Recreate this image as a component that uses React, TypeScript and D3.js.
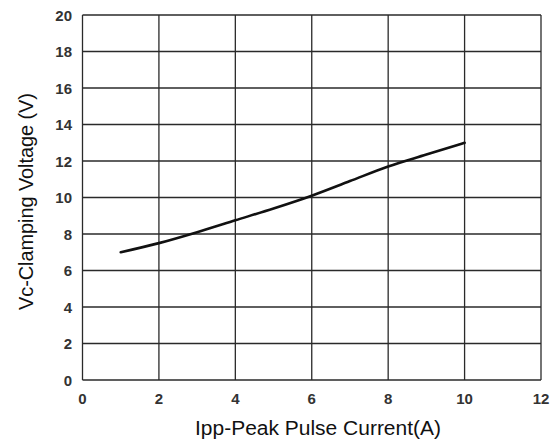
import { useEffect, useRef } from 'react';
import * as d3 from 'd3';

const currentA = [1, 2, 3, 4, 5, 6, 7, 8, 9, 10];
const clampV = [7, 7.5, 8.1, 8.75, 9.4, 10.1, 10.9, 11.7, 12.35, 13];
const xTicks = [0, 2, 4, 6, 8, 10, 12];
const yTicks = [0, 2, 4, 6, 8, 10, 12, 14, 16, 18, 20];

export default function App() {
  const ref = useRef<SVGSVGElement>(null);

  useEffect(() => {
    const width = 557;
    const height = 448;
    const margin = { top: 15, right: 16, bottom: 68, left: 82.5 };

    const svg = d3.select(ref.current);
    svg.selectAll('*').remove();

    const x = d3.scaleLinear().domain([0, 12]).range([margin.left, width - margin.right]);
    const y = d3.scaleLinear().domain([0, 20]).range([height - margin.bottom, margin.top]);

    const grid = svg.append('g').attr('stroke', '#2a2a2a').attr('stroke-width', 1.3);

    grid.selectAll('.vline')
      .data(xTicks)
      .join('line')
      .attr('x1', d => x(d))
      .attr('x2', d => x(d))
      .attr('y1', y(0))
      .attr('y2', y(20));

    grid.selectAll('.hline')
      .data(yTicks)
      .join('line')
      .attr('x1', x(0))
      .attr('x2', x(12))
      .attr('y1', d => y(d))
      .attr('y2', d => y(d));

    const line = d3.line<number>()
      .x((_, i) => x(currentA[i]))
      .y(d => y(d))
      .curve(d3.curveMonotoneX);

    svg.append('path')
      .datum(clampV)
      .attr('fill', 'none')
      .attr('stroke', '#111')
      .attr('stroke-width', 2.6)
      .attr('stroke-linecap', 'round')
      .attr('d', line);

    const font = 'Liberation Sans, Arial, sans-serif';

    svg.append('g')
      .selectAll('text')
      .data(yTicks)
      .join('text')
      .attr('x', 72)
      .attr('y', d => y(d) + 5.5)
      .attr('text-anchor', 'end')
      .attr('font-family', font)
      .attr('font-weight', 'bold')
      .attr('font-size', 15)
      .attr('fill', '#333')
      .text(d => d);

    svg.append('g')
      .selectAll('text')
      .data(xTicks)
      .join('text')
      .attr('x', d => x(d))
      .attr('y', 404)
      .attr('text-anchor', 'middle')
      .attr('font-family', font)
      .attr('font-weight', 'bold')
      .attr('font-size', 15)
      .attr('fill', '#333')
      .text(d => d);

    svg.append('text')
      .attr('x', 318)
      .attr('y', 435)
      .attr('text-anchor', 'middle')
      .attr('font-family', font)
      .attr('font-size', 20)
      .attr('textLength', 246)
      .attr('lengthAdjust', 'spacingAndGlyphs')
      .attr('fill', '#111')
      .text('Ipp-Peak Pulse Current(A)');

    svg.append('text')
      .attr('transform', 'translate(33,201.5) rotate(-90)')
      .attr('text-anchor', 'middle')
      .attr('font-family', font)
      .attr('font-size', 20)
      .attr('textLength', 217)
      .attr('lengthAdjust', 'spacing')
      .attr('fill', '#111')
      .text('Vc-Clamping Voltage (V)');
  }, []);

  return (
    <svg
      ref={ref}
      width={557}
      height={448}
      style={{ position: 'absolute', left: 0, top: 0, background: '#fff' }}
    />
  );
}
